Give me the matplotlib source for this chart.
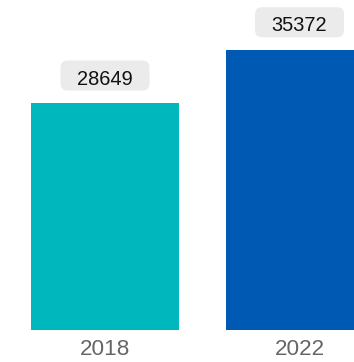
import matplotlib.pyplot as plt
from matplotlib.patches import FancyBboxPatch
from matplotlib.transforms import Affine2D, ScaledTranslation

years = ["2018", "2022"]
values = [28649, 35372]
colors = ["#00B7BE", "#0059B3"]

plt.rcParams['font.family'] = ['Liberation Sans', 'DejaVu Sans']

fig = plt.figure(figsize=(3.54, 3.62), dpi=100)
ax = fig.add_axes([0, 32 / 362, 1, 330 / 362])

x = list(range(len(years)))
ax.bar(x, values, width=0.761, color=colors)
ax.set_xlim(-0.54, 1.28)
ax.set_ylim(0, 41651)

ax.set_xticks(x, years)
ax.tick_params(axis='x', length=0, pad=6.5, labelsize=16.2, labelcolor='#666666')
ax.set_yticks([])
for s in ax.spines.values():
    s.set_visible(False)

# value labels in rounded grey boxes, sized in pixels above each bar
for xi, v in zip(x, values):
    tr = Affine2D().translate(0, 27.5) + ScaledTranslation(xi, v, ax.transData)
    box = FancyBboxPatch((-44.5, -15), 89, 30, boxstyle="round,pad=0,rounding_size=7",
                         fc='#EBEBEB', ec='none', transform=tr, clip_on=False)
    ax.add_patch(box)
    ttr = Affine2D().translate(0, -1.5) + tr
    ax.text(0, 0, str(v), transform=ttr, ha='center', va='center_baseline',
            fontsize=14.4, color='#111111')

fig.savefig("out.png", dpi=100)
